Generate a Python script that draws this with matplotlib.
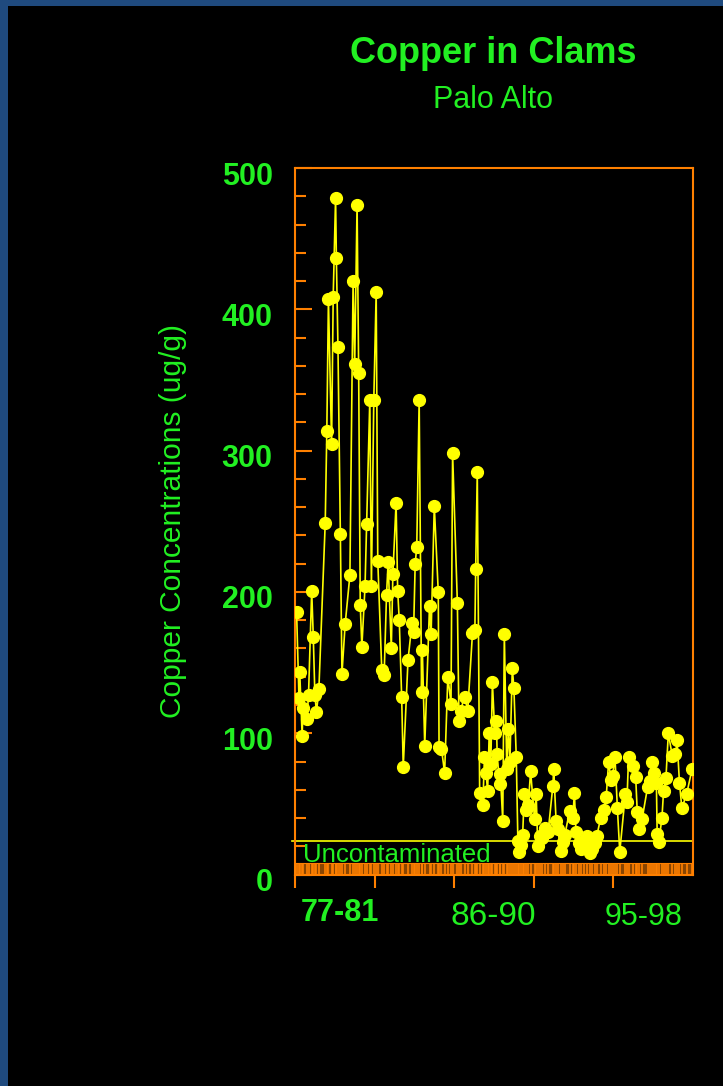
import matplotlib
matplotlib.use("Agg")
import matplotlib.pyplot as plt
import matplotlib.transforms as mtransforms
from matplotlib.patches import Rectangle
from matplotlib.ticker import MultipleLocator

plt.rcParams['font.family'] = ['Liberation Sans', 'DejaVu Sans']

# sample position along the compressed time axis (1 unit = one tick interval)
t = [0.02, 0.05, 0.06, 0.09, 0.10, 0.15, 0.17, 0.21, 0.23, 0.25, 0.27, 0.30,
     0.38, 0.40, 0.42, 0.46, 0.48, 0.51, 0.52, 0.54, 0.57, 0.59, 0.63, 0.69,
     0.73, 0.75, 0.78, 0.80, 0.82, 0.84, 0.88, 0.90, 0.94, 0.96, 0.99, 1.02,
     1.04, 1.09, 1.12, 1.15, 1.17, 1.21, 1.23, 1.27, 1.29, 1.31, 1.34, 1.36,
     1.42, 1.47, 1.49, 1.51, 1.53, 1.56, 1.59, 1.60, 1.63, 1.69, 1.71, 1.75,
     1.80, 1.81, 1.84, 1.88, 1.92, 1.96, 1.98, 2.04, 2.06, 2.08, 2.13, 2.17,
     2.23, 2.26, 2.27, 2.29, 2.32, 2.36, 2.38, 2.40, 2.42, 2.44, 2.46, 2.48,
     2.51, 2.53, 2.54, 2.57, 2.58, 2.61, 2.63, 2.66, 2.68, 2.70, 2.73, 2.75,
     2.78, 2.80, 2.82, 2.84, 2.86, 2.88, 2.90, 2.93, 2.96, 3.01, 3.03, 3.05,
     3.08, 3.10, 3.14, 3.18, 3.24, 3.25, 3.28, 3.30, 3.34, 3.37, 3.39, 3.45,
     3.49, 3.51, 3.53, 3.57, 3.59, 3.63, 3.67, 3.71, 3.73, 3.77, 3.79, 3.84,
     3.88, 3.91, 3.94, 3.97, 3.99, 4.02, 4.05, 4.08, 4.15, 4.17, 4.19, 4.25,
     4.28, 4.30, 4.32, 4.36, 4.43, 4.46, 4.48, 4.51, 4.54, 4.55, 4.57, 4.61,
     4.63, 4.66, 4.69, 4.74, 4.78, 4.80, 4.83, 4.86, 4.92, 4.99]

copper = [186, 125, 143, 98, 118, 110, 127, 201, 168, 127, 115, 131,
          249, 314, 407, 305, 409, 479, 436, 373, 241, 142, 177, 212,
          420, 361, 474, 355, 191, 161, 204, 248, 336, 204, 336, 412,
          222, 145, 141, 198, 221, 160, 213, 263, 201, 180, 126, 76,
          152, 178, 172, 220, 232, 336, 129, 159, 91, 190, 170, 261,
          200, 90, 89, 72, 140, 121, 298, 192, 109, 116, 126, 116,
          171, 173, 216, 285, 58, 49, 83, 72, 59, 100, 78, 136,
          100, 109, 85, 64, 71, 38, 170, 75, 103, 80, 146, 132,
          83, 24, 16, 21, 28, 57, 46, 49, 73, 39, 57, 20,
          27, 26, 33, 30, 63, 75, 38, 32, 17, 23, 28, 45,
          40, 58, 30, 22, 18, 22, 27, 15, 18, 22, 27, 40,
          46, 55, 80, 67, 70, 83, 47, 16, 57, 51, 83, 77,
          69, 44, 32, 39, 62, 66, 80, 72, 65, 29, 23, 40,
          59, 68, 100, 84, 85, 95, 65, 47, 57, 75]

uncontaminated = 24
period_labels = ["77-81", "86-90", "95-98"]
period_pos = [0.56, 2.49, 4.38]

green = '#22f022'
orange = '#ff8000'
yellow = '#ffff00'

fig = plt.figure(figsize=(7.23, 10.86), dpi=100, facecolor='black')
# blue frame strip on the left and top
fig.patches.append(Rectangle((0, 0), 8 / 723, 1, transform=fig.transFigure,
                             facecolor='#1f4a7e', edgecolor='none'))
fig.patches.append(Rectangle((0, 1 - 6 / 1086), 1, 6 / 1086, transform=fig.transFigure,
                             facecolor='#1f4a7e', edgecolor='none'))

ax = fig.add_axes([0.408, 0.1947, 0.5505, 0.6506])
ax.set_facecolor('black')

ax.plot(t, copper, '-', color=yellow, lw=1.2, marker='o', ms=8.5,
        mfc=yellow, mec=yellow, zorder=3)

# rug of sampling dates
ax.axhspan(0, 8.5, color='#8a4500', lw=0, zorder=1)
ax.vlines(t, 0, 8.5, color=orange, lw=1.2, zorder=2)
ax.axhline(8.5, color=orange, lw=0.8, zorder=2)

ax.axhline(uncontaminated, xmin=-0.008, color=yellow, lw=1.2, clip_on=False, zorder=2)
ax.text(0.1, uncontaminated - 2, "Uncontaminated", color=green, fontsize=18.5,
        va='top', ha='left', zorder=4)

ax.set_xlim(0, 5)
ax.set_ylim(0, 500)

for s in ax.spines.values():
    s.set_color(orange)
    s.set_linewidth(1.5)

ax.set_xticks([0, 1, 2, 3, 4])
ax.set_xticklabels([])
ax.tick_params(axis='x', direction='out', length=9, width=1.5, color=orange)

ax.set_yticks([0, 100, 200, 300, 400, 500])
ax.yaxis.set_minor_locator(MultipleLocator(20))
ax.tick_params(axis='y', which='major', direction='in', length=12, width=1.5,
               color=orange, labelcolor=green, labelsize=22, pad=16)
ax.tick_params(axis='y', which='minor', direction='in', length=8, width=1.5,
               color=orange)
offset = mtransforms.ScaledTranslation(0, -5 / 100, fig.dpi_scale_trans)
for lab in ax.get_yticklabels():
    lab.set_fontweight('bold')
    lab.set_transform(lab.get_transform() + offset)

ax.set_ylabel("Copper Concentrations (ug/g)", color=green, fontsize=21.5, labelpad=25)

sizes = [22, 24, 22]
weights = ['bold', 'normal', 'normal']
ys = [-0.055, -0.059, -0.06]
for lab, x, sz, w, yy in zip(period_labels, period_pos, sizes, weights, ys):
    ax.text(x, yy, lab, transform=ax.get_xaxis_transform(), color=green,
            fontsize=sz, fontweight=w, ha='center', va='center')

fig.text(0.682, 0.951, "Copper in Clams", color=green, fontsize=26,
         fontweight='bold', ha='center', va='center')
fig.text(0.682, 0.908, "Palo Alto", color=green, fontsize=22, ha='center', va='center')

fig.savefig("out.png", dpi=100, facecolor='black')
